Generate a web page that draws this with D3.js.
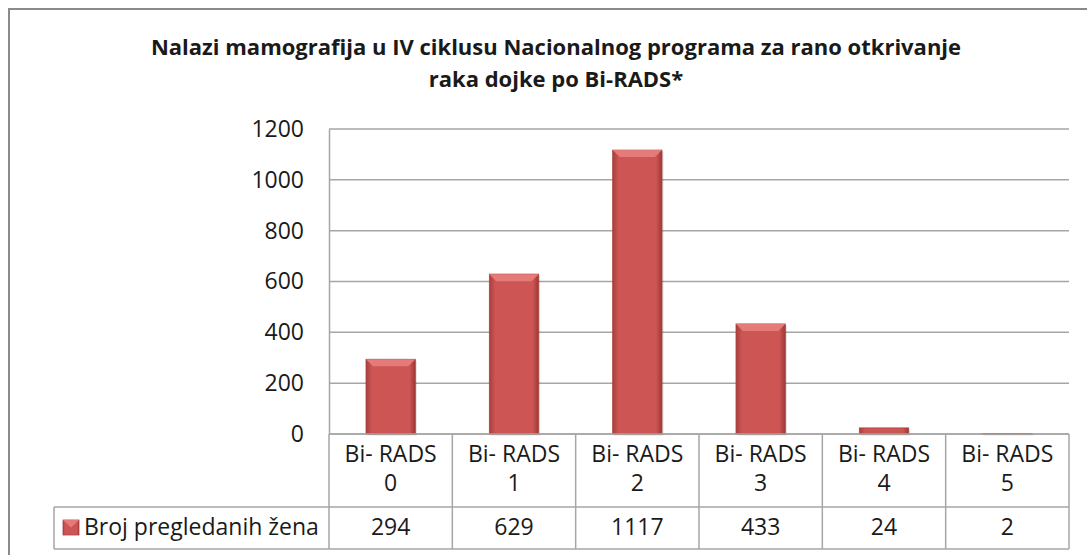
<!DOCTYPE html>
<html>
<head>
<meta charset="utf-8">
<script src="https://cdn.jsdelivr.net/npm/d3@7"></script>
<style>
  body { margin: 0; background: #fff; }
  text { font-family: "Open Sans", sans-serif; fill: #1a1a1a; }
</style>
</head>
<body>
<script>
const categories = ["Bi- RADS 0", "Bi- RADS 1", "Bi- RADS 2", "Bi- RADS 3", "Bi- RADS 4", "Bi- RADS 5"];
const values = [294, 629, 1117, 433, 24, 2];
const yTicks = [0, 200, 400, 600, 800, 1000, 1200];
const seriesName = "Broj pregledanih žena";
const titleLines = ["Nalazi mamografija u IV ciklusu Nacionalnog programa za rano otkrivanje", "raka dojke po Bi-RADS*"];

const width = 1087, height = 555;
const plot = {left: 329, right: 1069, top: 129, bottom: 434};
const tableLeft = 54, row1 = 507, row2 = 549;

const svg = d3.select("body").append("svg")
  .attr("width", width)
  .attr("height", height);

const defs = svg.append("defs");
const grad = defs.append("linearGradient").attr("id", "barGrad")
  .attr("x1", 0).attr("x2", 1).attr("y1", 0).attr("y2", 0);
grad.append("stop").attr("offset", "0%").attr("stop-color", "#a83e3c");
grad.append("stop").attr("offset", "12%").attr("stop-color", "#cd5554");
grad.append("stop").attr("offset", "88%").attr("stop-color", "#cd5554");
grad.append("stop").attr("offset", "100%").attr("stop-color", "#9c3836");

// outer frame
svg.append("rect")
  .attr("x", 9).attr("y", 9)
  .attr("width", width).attr("height", height)
  .attr("fill", "#fff").attr("stroke", "#8a8a8a").attr("stroke-width", 2);

// title
svg.append("g").selectAll("text")
  .data(titleLines)
  .join("text")
  .attr("x", 556)
  .attr("y", (d, i) => 55 + i * 32)
  .attr("text-anchor", "middle")
  .attr("font-size", 22)
  .attr("font-weight", "bold")
  .text(d => d);

const x = d3.scaleBand()
  .domain(categories)
  .range([plot.left, plot.right])
  .paddingInner(0)
  .paddingOuter(0);

const y = d3.scaleLinear()
  .domain([0, 1200])
  .range([plot.bottom, plot.top]);

// gridlines
svg.append("g").selectAll("line")
  .data(yTicks)
  .join("line")
  .attr("x1", plot.left).attr("x2", plot.right)
  .attr("y1", d => y(d)).attr("y2", d => y(d))
  .attr("stroke", "#a6a6a6").attr("stroke-width", 1.5);

// y axis
const yAxis = svg.append("g")
  .attr("transform", `translate(${plot.left},0)`)
  .call(d3.axisLeft(y).tickValues(yTicks).tickSize(0).tickPadding(25).tickFormat(d3.format("d")));
yAxis.select(".domain").attr("stroke", "#a6a6a6").attr("stroke-width", 1.5);
yAxis.selectAll("text")
  .attr("font-size", 23)
  .attr("font-family", "'Open Sans', sans-serif")
  .attr("fill", "#1a1a1a");

// bars
const barW = x.bandwidth() * 0.4;
const bars = svg.append("g").selectAll("g")
  .data(values.map((v, i) => ({cat: categories[i], value: v})))
  .join("g");

bars.append("rect")
  .attr("x", d => x(d.cat) + (x.bandwidth() - barW) / 2 + 1.5)
  .attr("y", d => y(d.value) + 1.5)
  .attr("width", barW)
  .attr("height", d => y(0) - y(d.value))
  .attr("fill", "#000").attr("opacity", 0.12);

bars.append("rect")
  .attr("x", d => x(d.cat) + (x.bandwidth() - barW) / 2)
  .attr("y", d => y(d.value))
  .attr("width", barW)
  .attr("height", d => y(0) - y(d.value))
  .attr("fill", "url(#barGrad)")
  .attr("stroke", "#a94442").attr("stroke-width", 0.8);

// bevel highlight on top
bars.filter(d => y(0) - y(d.value) > 8).append("path")
  .attr("d", d => {
    const x0 = x(d.cat) + (x.bandwidth() - barW) / 2, x1 = x0 + barW, t = y(d.value), b = 7;
    return `M${x0},${t}L${x1},${t}L${x1 - b},${t + b}L${x0 + b},${t + b}Z`;
  })
  .attr("fill", "#e57b79");

// data table
const table = svg.append("g");
const cellX = d => x(d);
const bw = x.bandwidth();

table.append("line")
  .attr("x1", plot.left).attr("x2", plot.right)
  .attr("y1", plot.bottom).attr("y2", plot.bottom)
  .attr("stroke", "#a6a6a6").attr("stroke-width", 1.5);
table.append("line")
  .attr("x1", tableLeft).attr("x2", plot.right)
  .attr("y1", row1).attr("y2", row1)
  .attr("stroke", "#a6a6a6").attr("stroke-width", 1.5);
table.append("line")
  .attr("x1", tableLeft).attr("x2", plot.right)
  .attr("y1", row2).attr("y2", row2)
  .attr("stroke", "#a6a6a6").attr("stroke-width", 1.5);
table.append("line")
  .attr("x1", tableLeft).attr("x2", tableLeft)
  .attr("y1", row1).attr("y2", row2)
  .attr("stroke", "#a6a6a6").attr("stroke-width", 1.5);
table.selectAll(".vline")
  .data(categories.concat([null]))
  .join("line")
  .attr("class", "vline")
  .attr("x1", d => d === null ? plot.right : cellX(d))
  .attr("x2", d => d === null ? plot.right : cellX(d))
  .attr("y1", plot.bottom).attr("y2", row2)
  .attr("stroke", "#a6a6a6").attr("stroke-width", 1.5);

const catText = table.selectAll(".cat")
  .data(categories)
  .join("text")
  .attr("class", "cat")
  .attr("text-anchor", "middle")
  .attr("font-size", 23);
catText.append("tspan")
  .attr("x", d => cellX(d) + bw / 2)
  .attr("y", 462)
  .text(d => d.slice(0, d.lastIndexOf(" ")));
catText.append("tspan")
  .attr("x", d => cellX(d) + bw / 2)
  .attr("y", 491)
  .text(d => d.slice(d.lastIndexOf(" ") + 1));

table.selectAll(".val")
  .data(values)
  .join("text")
  .attr("class", "val")
  .attr("x", (d, i) => cellX(categories[i]) + bw / 2)
  .attr("y", 535)
  .attr("text-anchor", "middle")
  .attr("font-size", 23)
  .text(d => d);

// legend key in table
table.append("rect")
  .attr("x", 63).attr("y", 520)
  .attr("width", 16).attr("height", 15)
  .attr("fill", "url(#barGrad)")
  .attr("stroke", "#a94442").attr("stroke-width", 0.8);
table.append("path")
  .attr("d", "M63,520L79,520L71,527.5Z")
  .attr("fill", "#e57b79");
table.append("text")
  .attr("x", 84).attr("y", 535)
  .attr("font-size", 23)
  .text(seriesName);
</script>
</body>
</html>
